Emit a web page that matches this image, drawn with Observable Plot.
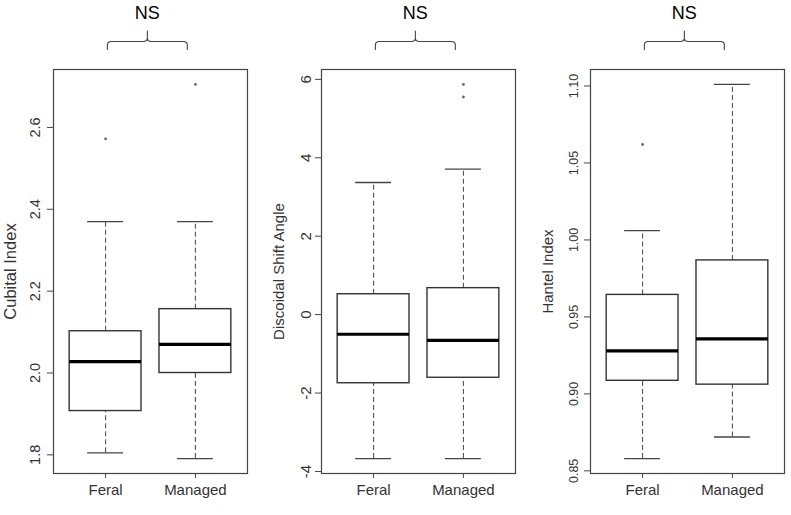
<!DOCTYPE html>
<html><head><meta charset="utf-8">
<script src="https://cdn.jsdelivr.net/npm/d3@7"></script>
<script src="https://cdn.jsdelivr.net/npm/@observablehq/plot@0.6"></script>
<style>
body{margin:0;background:#fff;}
#row{display:flex;width:791px;height:515px;overflow:hidden;}
#row svg{display:block;overflow:visible;}
</style></head><body><div id="row"></div>
<script>
// ---------- data ----------
const groups = ["Feral", "Managed"];
const significance = "NS";

const cubitalLow    = [1.805, 1.791];
const cubitalQ1     = [1.907, 2.000];
const cubitalMedian = [2.028, 2.070];
const cubitalQ3     = [2.102, 2.156];
const cubitalHigh   = [2.370, 2.370];
const cubitalOutlierGroup = ["Feral", "Managed"];
const cubitalOutlierValue = [2.572, 2.705];
const cubitalTicks  = [1.8, 2.0, 2.2, 2.4, 2.6];

const dsaLow    = [-3.67, -3.67];
const dsaQ1     = [-1.75, -1.61];
const dsaMedian = [-0.50, -0.655];
const dsaQ3     = [0.52, 0.675];
const dsaHigh   = [3.37, 3.71];
const dsaOutlierGroup = ["Managed", "Managed"];
const dsaOutlierValue = [5.87, 5.55];
const dsaTicks  = [-4, -2, 0, 2, 4, 6];

const hantelLow    = [0.858, 0.872];
const hantelQ1     = [0.9085, 0.906];
const hantelMedian = [0.928, 0.9357];
const hantelQ3     = [0.9643, 0.9867];
const hantelHigh   = [1.006, 1.101];
const hantelOutlierGroup = ["Feral"];
const hantelOutlierValue = [1.062];
const hantelTicks  = [0.85, 0.90, 0.95, 1.00, 1.05, 1.10];

// ---------- layout / style ----------
const FONT = "Liberation Sans, Arial, Helvetica, sans-serif";
const panels = [
  {title: "Cubital Index", low: cubitalLow, q1: cubitalQ1, med: cubitalMedian, q3: cubitalQ3, high: cubitalHigh,
   og: cubitalOutlierGroup, ov: cubitalOutlierValue, ticks: cubitalTicks, fmt: d3.format(".1f"),
   width: 268, titleSize: 16.5, tickSize: 14.5, tickOff: 13.5},
  {title: "Discoidal Shift Angle", low: dsaLow, q1: dsaQ1, med: dsaMedian, q3: dsaQ3, high: dsaHigh,
   og: dsaOutlierGroup, ov: dsaOutlierValue, ticks: dsaTicks, fmt: d => String(d),
   width: 269, titleSize: 15, tickSize: 15, tickOff: 10.5},
  {title: "Hantel Index", low: hantelLow, q1: hantelQ1, med: hantelMedian, q3: hantelQ3, high: hantelHigh,
   og: hantelOutlierGroup, ov: hantelOutlierValue, ticks: hantelTicks, fmt: d3.format(".2f"),
   width: 254, titleSize: 15, tickSize: 12.5, tickOff: 13}
];

const H = 515, MT = 69, MB = 42, ML = 53, FRAME_W = 194;
const plotH = H - MT - MB;

function makePanel(p) {
  const stats = groups.map((g, i) => ({g, x: i + 1, low: p.low[i], q1: p.q1[i], med: p.med[i], q3: p.q3[i], high: p.high[i]}));
  const outliers = p.ov.map((v, i) => ({x: groups.indexOf(p.og[i]) + 1, v}));
  // R-style y range: data extent expanded by 4%
  const lo0 = Math.min(...p.low, ...p.ov), hi0 = Math.max(...p.high, ...p.ov);
  const pad = (hi0 - lo0) * 0.04;
  const lo = lo0 - pad, hi = hi0 + pad;
  const above = px => hi + px * (hi - lo) / plotH; // value at px pixels above frame top

  // brace annotation spanning the two groups
  const bx0 = 1.02, bx1 = 1.91, bc = 1.465, r = 0.035;
  const brace = [
    [bx0, 20], [bx0, 25], [bx0 + 0.008, 27], [bx0 + r, 28],
    [bc - r, 28], [bc - 0.008, 29], [bc, 31], [bc, 38.5],
    [bc, 31], [bc + 0.008, 29], [bc + r, 28],
    [bx1 - r, 28], [bx1 - 0.008, 27], [bx1, 25], [bx1, 20]
  ].map(([x, off]) => ({x, y: above(off)}));

  return Plot.plot({
    width: p.width, height: H,
    marginLeft: ML, marginRight: p.width - ML - FRAME_W, marginTop: MT, marginBottom: MB,
    style: {fontFamily: FONT, background: "white", overflow: "visible"},
    x: {type: "linear", domain: [0.42, 2.58], axis: null},
    y: {domain: [lo, hi], axis: null},
    marks: [
      // whiskers (dashed)
      Plot.ruleX(stats, {x: "x", y1: "q3", y2: "high", stroke: "#555", strokeWidth: 1.1, strokeDasharray: "5,3"}),
      Plot.ruleX(stats, {x: "x", y1: "low", y2: "q1", stroke: "#555", strokeWidth: 1.1, strokeDasharray: "5,3"}),
      // caps
      Plot.ruleY(stats, {y: "high", x1: d => d.x - 0.2, x2: d => d.x + 0.2, stroke: "#444", strokeWidth: 1.3}),
      Plot.ruleY(stats, {y: "low", x1: d => d.x - 0.2, x2: d => d.x + 0.2, stroke: "#444", strokeWidth: 1.3}),
      // boxes
      Plot.rect(stats, {x1: d => d.x - 0.4, x2: d => d.x + 0.4, y1: "q1", y2: "q3", fill: "white", stroke: "#333", strokeWidth: 1.4}),
      // medians
      Plot.ruleY(stats, {y: "med", x1: d => d.x - 0.4, x2: d => d.x + 0.4, stroke: "#000", strokeWidth: 3.2}),
      // outliers
      Plot.dot(outliers, {x: "x", y: "v", r: 1.4, fill: "#666", stroke: "none"}),
      // frame
      Plot.frame({stroke: "#444", strokeWidth: 1.2}),
      // y axis ticks and rotated labels
      Plot.axisY({ticks: p.ticks, tickSize: 6, tickFormat: () => "", label: null, stroke: "#444"}),
      Plot.text(p.ticks, {y: d => d, text: d => p.fmt(d), frameAnchor: "left", dx: -p.tickOff, rotate: -90,
        textAnchor: "middle", lineAnchor: "bottom", fontSize: p.tickSize, fill: "#333"}),
      // y title
      Plot.text([p.title], {frameAnchor: "left", dx: -37.5, rotate: -90, textAnchor: "middle", lineAnchor: "bottom",
        fontSize: p.titleSize, fill: "#333"}),
      // x axis
      Plot.axisX({ticks: [1, 2], tickSize: 5, tickPadding: 6, tickFormat: d => groups[d - 1], fontSize: 15,
        label: null, stroke: "#444", fill: "#333"}),
      // significance brace + label
      Plot.line(brace, {x: "x", y: "y", stroke: "#444", strokeWidth: 1.1}),
      Plot.text([significance], {x: () => bc, y: () => above(50.5), text: d => d, lineAnchor: "bottom",
        fontSize: 18, fill: "#000"})
    ]
  });
}

const row = document.getElementById("row");
panels.forEach(p => row.appendChild(makePanel(p)));
</script>
</body></html>
